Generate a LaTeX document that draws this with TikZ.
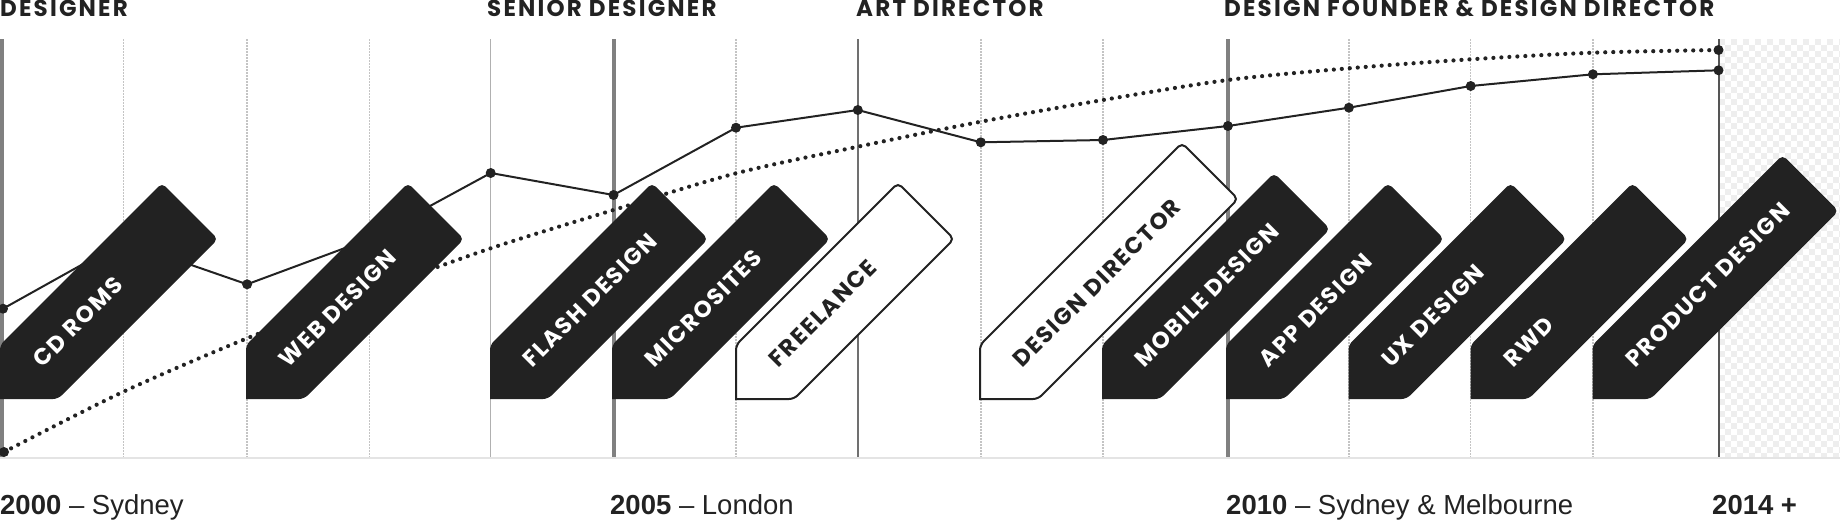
\documentclass[tikz,border=0pt]{standalone}
\usepackage{fontspec}
\newfontfamily\popfam{Poppins}[LetterSpace=7]
\newfontfamily\poptop{Poppins}[LetterSpace=9.5]
\newfontfamily\helvfam{Liberation Sans}
\definecolor{ink}{HTML}{222222}
\definecolor{gthickc}{HTML}{808080}
\definecolor{glight}{HTML}{B0B0B0}
\definecolor{gmid}{HTML}{707070}
\definecolor{gdark}{HTML}{555555}
\definecolor{gdot}{HTML}{C4C4C4}
\definecolor{baseln}{HTML}{E4E4E4}
\definecolor{checkc}{HTML}{EEEEEE}
\tikzset{
  gthick/.style={draw=gthickc, line width=4pt},
  glt/.style={draw=glight, line width=1.5pt},
  gmd/.style={draw=gmid, line width=1.5pt},
  gdk/.style={draw=gdark, line width=2pt},
  gdt/.style={draw=gdot, line width=1.5pt, dash pattern=on 1.5pt off 1.5pt},
  dotline/.style={draw=ink, line width=4.2pt, line cap=round, dash pattern=on 0pt off 8pt},
  solidline/.style={draw=ink, line width=2pt, line join=round},
  datadot/.style={circle, fill=ink, inner sep=0pt, minimum size=10pt},
  tagblack/.style={fill=ink},
  tagwhite/.style={fill=white, draw=ink, line width=2pt},
  tagfont/.style={font=\popfam\bfseries\fontsize{23}{23}\selectfont},
  txtblack/.style={text=white, inner sep=0pt, tagfont},
  txtwhite/.style={text=ink, inner sep=0pt, tagfont},
  toplab/.style={text=ink, inner sep=0pt, anchor=base west, font=\poptop\bfseries\fontsize{23}{23}\selectfont},
  botlab/.style={text=ink, inner sep=0pt, anchor=base west, font=\helvfam\fontsize{27.5}{27.5}\selectfont},
}
\newcommand{\cvtag}[5]{%
  \path[tag#3] (#1,399) [rounded corners=5pt] -- ({#1+58},399) -- ({#1+218+#2},{239-#2}) -- ({#1+162+#2},{183-#2}) -- (#1,345) [sharp corners] -- cycle;
  \node[txt#3, rotate=45, anchor=west] (#4) at ({#1+37},363) {#5};
}
\begin{document}
\begin{tikzpicture}[x=1pt,y=-1pt]
\useasboundingbox (0,0) rectangle (1840,520);
% checker area
\begin{scope}
  \clip (1719,39) rectangle (1840,457);
  \foreach \i in {0,...,10}{
    \foreach \j in {0,...,35}{
      \fill[checkc] ({1719+12*\i},{39+12*\j}) rectangle +(6,6);
      \fill[checkc] ({1725+12*\i},{45+12*\j}) rectangle +(6,6);
    }
  }
\end{scope}
% grid
\foreach \gx in {123.4,247.1,369.3,736,980.8,1103,1348.9,1470.7,1592.9}
  \draw[gdt] (\gx,39) -- (\gx,457);
\draw[glt] (490.7,39) -- (490.7,457);
\draw[gmd] (857.8,39) -- (857.8,457);
\draw[gdk] (1718.5,39) -- (1718.5,457);
\foreach \gx in {2,613.8,1228}
  \draw[gthick] (\gx,39) -- (\gx,457);
\draw[draw=baseln, line width=2pt] (0,457.5) -- (1840,457.5);
% dotted trend
\draw[dotline] plot[smooth, tension=0.5] coordinates {(4,452) (123.4,391.7) (247.1,338.3) (369.3,292) (490.7,248.3) (613.5,210) (736,173.3) (857.8,146.7) (980.8,121.7) (1103,100) (1227.9,80) (1348.9,68.3) (1470.7,59.3) (1592.9,52.7) (1718.5,50)};
\node[datadot] (ds) at (4,452) {};
\node[datadot] (de) at (1718.5,50) {};
% solid line
\draw[solidline] (3,308.7) -- (123.4,241.5) -- (247.1,284.3) -- (369.3,239) -- (490.7,173) -- (613.5,195) -- (736,127.7) -- (857.8,110) -- (980.8,142.3) -- (1103,140) -- (1227.9,126) -- (1348.9,107.7) -- (1470.7,86) -- (1592.9,74.3) -- (1718.5,70.3);
\foreach \px/\py [count=\k] in {3/308.7,123.4/241.5,247.1/284.3,369.3/239,490.7/173,613.5/195,736/127.7,857.8/110,980.8/142.3,1103/140,1227.9/126,1348.9/107.7,1470.7/86,1592.9/74.3,1718.5/70.3}
  \node[datadot] (p\k) at (\px,\py) {};
% tags
\cvtag{0}{0}{black}{cd}{CD ROMS}
\cvtag{246}{0}{black}{web}{WEB DESIGN}
\cvtag{490}{0}{black}{flash}{FLASH DESIGN}
\cvtag{612}{0}{black}{micro}{MICROSITES}
\cvtag{736}{0}{white}{free}{FREELANCE}
\cvtag{980}{40}{white}{dd}{DESIGN DIRECTOR}
\cvtag{1102}{10}{black}{mob}{MOBILE DESIGN}
\cvtag{1226}{0}{black}{app}{APP DESIGN}
\cvtag{1348.5}{0}{black}{ux}{UX DESIGN}
\cvtag{1470.5}{0}{black}{rwd}{RWD}
\cvtag{1592.5}{28}{black}{prod}{PRODUCT DESIGN}
% top labels
\node[toplab] (l1) at (0,16.7) {DESIGNER};
\node[toplab] (l2) at (487,16.7) {SENIOR DESIGNER};
\node[toplab] (l3) at (856,16.7) {ART DIRECTOR};
\node[toplab] (l4) at (1224,16.7) {DESIGN FOUNDER \& DESIGN DIRECTOR};
% bottom labels
\node[botlab] (b1) at (0,514) {\textbf{2000} – Sydney};
\node[botlab] (b2) at (610,514) {\textbf{2005} – London};
\node[botlab] (b3) at (1226,514) {\textbf{2010} – Sydney \& Melbourne};
\node[botlab] (b4) at (1712,514) {\textbf{2014 +}};
\end{tikzpicture}
\end{document}
